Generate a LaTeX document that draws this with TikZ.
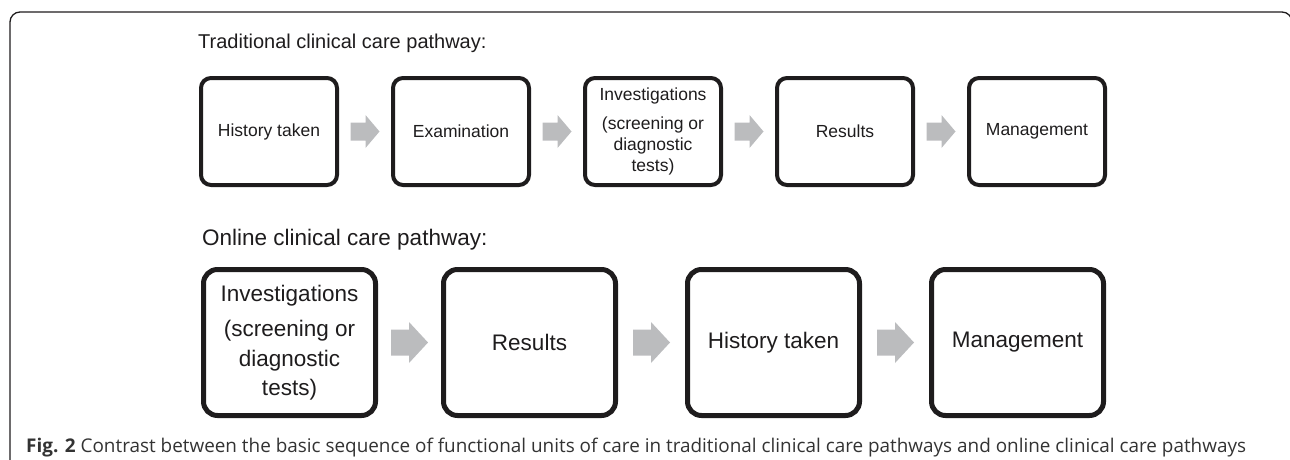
\documentclass[tikz,border=0pt]{standalone}
\usepackage{fontspec}
\setmainfont{Liberation Sans}
\newfontfamily\capfont{Open Sans}
\usetikzlibrary{calc}
\definecolor{arrowgray}{HTML}{BBBCBE}
\definecolor{ink}{HTML}{1E1C1D}
\tikzset{
  topbox/.style={draw=ink, line width=4pt, rounded corners=10pt, minimum width=136pt, minimum height=107pt, inner sep=0pt, align=center, text=ink, font=\fontsize{17.5}{21}\selectfont},
  botbox/.style={draw=ink, line width=5pt, rounded corners=14pt, minimum width=172pt, minimum height=146pt, inner sep=0pt, align=center, text=ink, font=\fontsize{22.5}{29.5}\selectfont},
  blockarrow/.style={fill=arrowgray, draw=none},
  title/.style={anchor=base west, inner sep=0pt, text=ink},
}
\begin{document}
\begin{tikzpicture}[x=1pt,y=-1pt]
\useasboundingbox (0,0) rectangle (1290,459);
\begin{scope}
\clip (0,0) rectangle (1290,459);
\draw[ink, line width=1.3pt, rounded corners=10pt] (10,470) -- (10,12) -- (1292,12) -- (1292,470);
\end{scope}

\node[title, font=\fontsize{20}{24}\selectfont] (t1) at (198,48) {Traditional clinical care pathway:};
\node[topbox] (a1) at (269,131.5) {History taken};
\node[topbox] (a2) at (461,131.5) {Examination};
\node[topbox] (a3) at (653,131.5) {Investigations\\[8pt](screening or\\diagnostic\\tests)};
\node[topbox] (a4) at (845,131.5) {Results};
\node[topbox] (a5) at (1037,131.5) {Management};
\foreach \i/\j in {1/2,2/3,3/4,4/5}
  \fill[blockarrow] ($(a\i.east)!0.5!(a\j.west)$) ++(-14.5,-9) -- ++(15,0) -- ++(0,-7.5) -- ++(14,16.5) -- ++(-14,16.5) -- ++(0,-7.5) -- ++(-15,0) -- cycle;

\node[title, font=\fontsize{22.5}{27}\selectfont] (t2) at (202,245) {Online clinical care pathway:};
\node[botbox] (b1) at (289.5,342.5) {Investigations\\[6pt](screening or\\diagnostic\\tests)};
\node[botbox] (b2) at (529.5,342.5) {Results};
\node[botbox] (b3) at (773.5,342.5) {History taken};
\node[botbox] (b4) at (1017.5,342.5) {Management};
\foreach \i/\j in {1/2,2/3,3/4}
  \fill[blockarrow] ($(b\i.east)!0.5!(b\j.west)$) ++(-18.5,-13) -- ++(18,0) -- ++(0,-7.5) -- ++(19,20.5) -- ++(-19,20.5) -- ++(0,-7.5) -- ++(-18,0) -- cycle;

\node[title, font=\capfont\fontsize{18.9}{22}\selectfont, text=black!80] (cap) at (26,452) {\textbf{Fig. 2} Contrast between the basic sequence of functional units of care in traditional clinical care pathways and online clinical care pathways};
\end{tikzpicture}
\end{document}
